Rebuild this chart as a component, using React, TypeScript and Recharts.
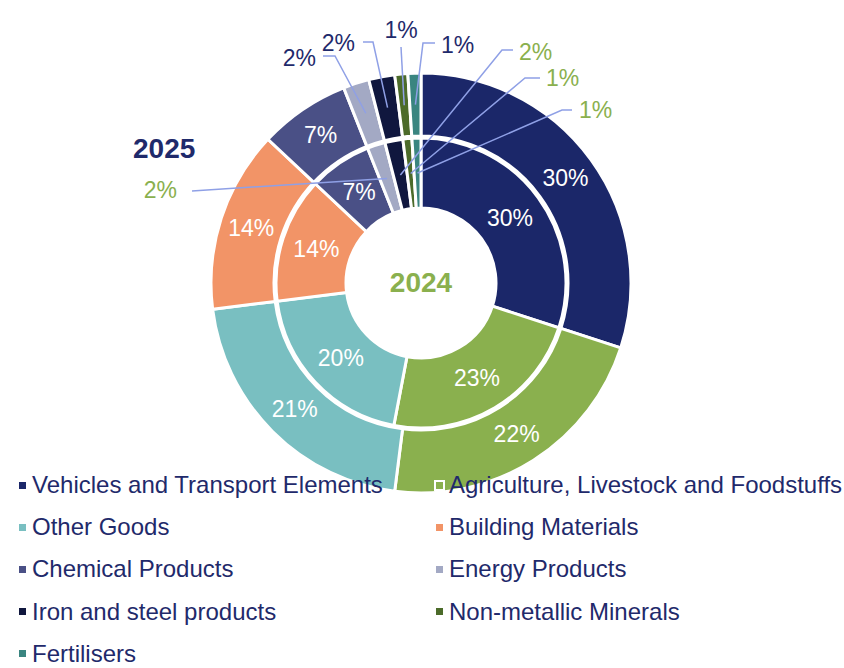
import React from 'react';
import { PieChart, Pie, Cell } from 'recharts';

const categories = [
  'Vehicles and Transport Elements',
  'Agriculture, Livestock and Foodstuffs',
  'Other Goods',
  'Building Materials',
  'Chemical Products',
  'Energy Products',
  'Iron and steel products',
  'Non-metallic Minerals',
  'Fertilisers',
];
const share2024 = [30, 23, 20, 14, 7, 2, 2, 1, 1];
const share2025 = [30, 22, 21, 14, 7, 2, 2, 1, 1];

const colors = ['#1B2769', '#8AB04E', '#79BFC1', '#F29467', '#4A5086', '#A3A9C4', '#10173E', '#4C6B2A', '#3A8580'];
const NAVY = '#1F2A6B';
const GREEN = '#8AB04E';
const LEADER = '#8FA0E6';
const FONT = '"Liberation Sans", Arial, sans-serif';

const data2024 = categories.map((name, i) => ({ name, value: share2024[i] }));
const data2025 = categories.map((name, i) => ({ name, value: share2025[i] }));

// callout placement for the thin slices, relative to the pie centre
type Callout = { elbow: number[]; end: number[]; text: number[]; anchor: 'start' | 'middle' | 'end' };
const outerCallouts: Record<number, Callout> = {
  5: { elbow: [-86, -227], end: [-98, -227], text: [-105, -225], anchor: 'end' },
  6: { elbow: [-48, -241], end: [-58, -241], text: [-66, -240], anchor: 'end' },
  7: { elbow: [-20, -236], end: [-20, -236], text: [-20, -253], anchor: 'middle' },
  8: { elbow: [2, -240], end: [14, -240], text: [20, -238], anchor: 'start' },
};
const innerCallouts: Record<number, Callout> = {
  5: { elbow: [-229, -92], end: [-229, -92], text: [-244, -93], anchor: 'end' },
  6: { elbow: [81, -233], end: [92, -233], text: [98, -231], anchor: 'start' },
  7: { elbow: [104, -205], end: [119, -205], text: [125, -205], anchor: 'start' },
  8: { elbow: [141, -173], end: [151, -173], text: [158, -173], anchor: 'start' },
};

const RAD = Math.PI / 180;
const CX = 421;
const CY = 283;

const makeLabel = (callouts: Record<number, Callout>, color: string) => (props: any) => {
  const { cx, cy, midAngle, innerRadius, outerRadius, value, index } = props;
  const r = (innerRadius + outerRadius) / 2;
  const x = cx + r * Math.cos(-midAngle * RAD);
  const y = cy + r * Math.sin(-midAngle * RAD);
  const c = callouts[index];
  if (!c) {
    return (
      <text x={x} y={y} fill="#fff" fontSize={23} fontFamily={FONT} textAnchor="middle" dominantBaseline="central">
        {value}%
      </text>
    );
  }
  const pts = [
    [x, y],
    [cx + c.elbow[0], cy + c.elbow[1]],
    [cx + c.end[0], cy + c.end[1]],
  ];
  return (
    <g>
      <polyline points={pts.map((p) => p.join(',')).join(' ')} fill="none" stroke={LEADER} strokeWidth={1.5} />
      <text
        x={cx + c.text[0]}
        y={cy + c.text[1]}
        fill={color}
        fontSize={23}
        fontFamily={FONT}
        textAnchor={c.anchor}
        dominantBaseline="central"
      >
        {value}%
      </text>
    </g>
  );
};

const LegendBlock = () => (
  <div style={{ position: 'absolute', left: 0, top: 0, width: 844, height: 668, fontFamily: FONT, pointerEvents: 'none' }}>
    {categories.map((name, i) => (
      <div
        key={name}
        style={{
          position: 'absolute',
          left: i % 2 === 0 ? 17 : 434,
          top: 474 + Math.floor(i / 2) * 42.2,
          height: 22,
          lineHeight: '22px',
          display: 'flex',
          alignItems: 'center',
          fontSize: 24,
          color: NAVY,
          whiteSpace: 'nowrap',
        }}
      >
        <span
          style={{
            display: 'inline-block',
            width: 7,
            height: 7,
            background: colors[i],
            border: '2px solid #fff',
            marginRight: 4,
          }}
        />
        {name}
      </div>
    ))}
  </div>
);

export default function App() {
  return (
    <div style={{ position: 'relative', width: 844, height: 668, background: '#fff', overflow: 'hidden' }}>
      <style>{'body{margin:0}'}</style>
      <PieChart width={844} height={668} margin={{ top: 0, right: 0, bottom: 0, left: 0 }}>
        <Pie
          data={data2024}
          dataKey="value"
          cx={CX}
          cy={CY}
          innerRadius={75}
          outerRadius={145}
          startAngle={90}
          endAngle={-270}
          stroke="#fff"
          strokeWidth={3}
          label={makeLabel(innerCallouts, GREEN)}
          labelLine={false}
          isAnimationActive={false}
        >
          {data2024.map((d, i) => (
            <Cell key={d.name} fill={colors[i]} />
          ))}
        </Pie>
        <Pie
          data={data2025}
          dataKey="value"
          cx={CX}
          cy={CY}
          innerRadius={147}
          outerRadius={210}
          startAngle={90}
          endAngle={-270}
          stroke="#fff"
          strokeWidth={3}
          label={makeLabel(outerCallouts, NAVY)}
          labelLine={false}
          isAnimationActive={false}
        >
          {data2025.map((d, i) => (
            <Cell key={d.name} fill={colors[i]} />
          ))}
        </Pie>
      </PieChart>
      <LegendBlock />
      <div
        style={{
          position: 'absolute',
          left: CX - 50,
          top: CY - 18,
          width: 100,
          textAlign: 'center',
          fontFamily: FONT,
          fontWeight: 'bold',
          fontSize: 28,
          lineHeight: '36px',
          color: GREEN,
        }}
      >
        2024
      </div>
      <div
        style={{
          position: 'absolute',
          left: 133,
          top: 133,
          fontFamily: FONT,
          fontWeight: 'bold',
          fontSize: 28,
          color: NAVY,
        }}
      >
        2025
      </div>
    </div>
  );
}
